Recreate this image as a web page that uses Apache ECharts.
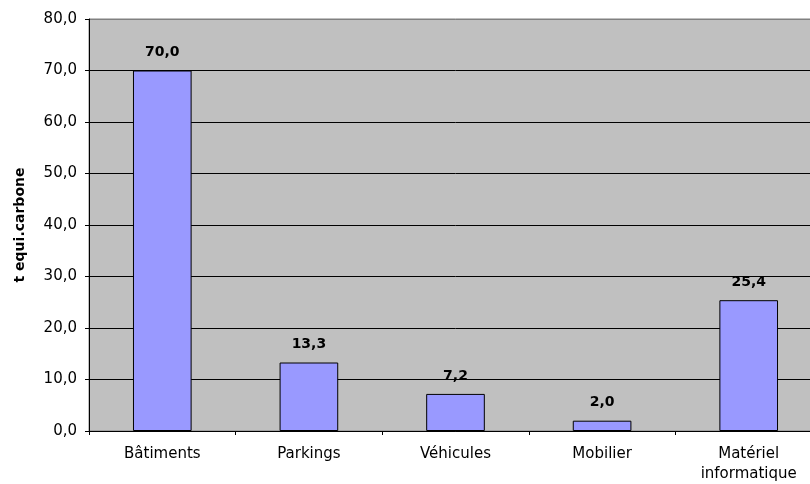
<!DOCTYPE html>
<html>
<head>
<meta charset="utf-8">
<script src="https://cdn.jsdelivr.net/npm/echarts@6/dist/echarts.min.js"></script>
<style>
  html, body { margin: 0; padding: 0; background: #fff; overflow: hidden; }
  /* the plot runs slightly past the right edge of the window */
  #chart { width: 822px; height: 484px; }
</style>
</head>
<body>
<div id="chart"></div>
<script>
// Emissions by asset category (tonnes carbon equivalent)
const categories = ['Bâtiments', 'Parkings', 'Véhicules', 'Mobilier', 'Matériel\ninformatique'];
const emissions = [70.0, 13.3, 7.2, 2.0, 25.4];
const yTicks = [0, 10, 20, 30, 40, 50, 60, 70, 80];

const fmt = v => Number(v).toFixed(1).replace('.', ',');
const font = 'DejaVu Sans';

// grid lines: black inside, grey on the top edge of the plot
const splitColors = yTicks.map((t, i) => i === yTicks.length - 1 ? '#808080' : '#000000');

const chart = echarts.init(document.getElementById('chart'), null, { renderer: 'canvas' });
chart.setOption({
  animation: false,
  backgroundColor: '#ffffff',
  grid: {
    left: 89, right: 0, top: 19, bottom: 52,
    show: true,
    backgroundColor: '#c0c0c0',
    borderColor: '#808080',
    borderWidth: 1
  },
  xAxis: {
    type: 'category',
    data: categories,
    axisLine: { lineStyle: { color: '#000', width: 1 } },
    axisTick: { show: true, length: 4, lineStyle: { color: '#000' } },
    axisLabel: {
      color: '#000', fontFamily: font, fontSize: 15, margin: 13,
      lineHeight: 20, interval: 0
    },
    splitLine: { show: false }
  },
  yAxis: {
    type: 'value',
    min: yTicks[0],
    max: yTicks[yTicks.length - 1],
    interval: 10,
    name: 't equi.carbone',
    nameLocation: 'middle',
    nameGap: 62,
    nameTextStyle: { color: '#000', fontFamily: font, fontSize: 14, fontWeight: 'bold' },
    axisLine: { show: true, lineStyle: { color: '#000', width: 1 } },
    axisTick: { show: true, length: 4, lineStyle: { color: '#000' } },
    axisLabel: { color: '#000', fontFamily: font, fontSize: 15, margin: 12, formatter: fmt },
    splitLine: { show: true, lineStyle: { color: splitColors, width: 1 } }
  },
  series: [{
    type: 'bar',
    data: emissions,
    barWidth: '40%',
    itemStyle: { color: '#9999ff', borderColor: '#000', borderWidth: 1 },
    label: {
      show: true, position: 'top', distance: 11,
      color: '#000', fontFamily: font, fontSize: 14, fontWeight: 'bold',
      formatter: p => fmt(p.value)
    }
  }]
});
</script>
</body>
</html>
